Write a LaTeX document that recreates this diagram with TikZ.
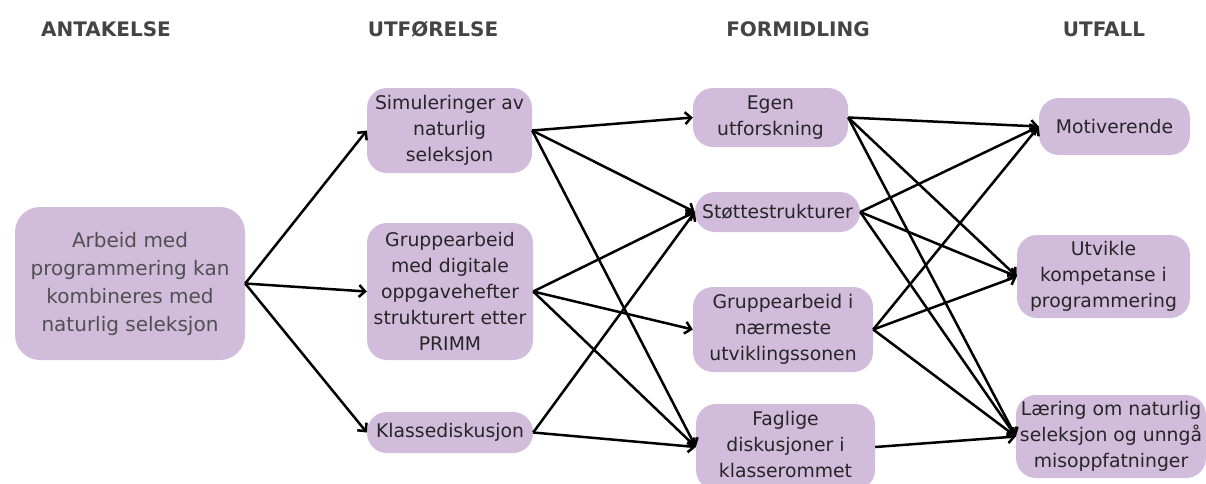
\documentclass[tikz,border=0pt]{standalone}
\usepackage{fontspec}
\setmainfont{DejaVu Sans}
\usetikzlibrary{arrows.meta}
\definecolor{boxfill}{HTML}{D2BCDC}
\definecolor{boxtext}{HTML}{262626}
\definecolor{maintext}{HTML}{505050}
\definecolor{headtext}{HTML}{444444}
\begin{document}
\begin{tikzpicture}[x=1pt,y=-1pt,
  box/.style={fill=boxfill, rounded corners=20pt, align=center, inner sep=0pt,
    font=\fontsize{18.8}{26}\selectfont, text=boxtext},
  boxlabel/.style={align=center, inner sep=0pt,
    font=\fontsize{18.8}{26}\selectfont, text=boxtext},
  heading/.style={font=\fontsize{20}{24}\selectfont\bfseries, text=headtext, inner sep=0pt},
  conn/.style={line width=2.5pt, -{Straight Barb[length=6pt,width=12pt,line width=2.5pt]}}
]
\useasboundingbox (0,0) rectangle (1206,483);
\begin{scope}
\clip (0,0) rectangle (1206,483);
% headings
\node[heading] (h1) at (106,29.5) {ANTAKELSE};
\node[heading] (h2) at (433,29.5) {UTFØRELSE};
\node[heading] (h3) at (798,29.5) {FORMIDLING};
\node[heading] (h4) at (1104,29.5) {UTFALL};
% boxes
\node[box, minimum width=230pt, minimum height=153pt, rounded corners=25pt,
  font=\fontsize{20}{28}\selectfont, text=maintext] (main) at (130,283.5)
  {Arbeid med\\programmering kan\\kombineres med\\naturlig seleksjon};
\node[box, minimum width=165pt, minimum height=85pt] (sim) at (449.5,130.5)
  {Simuleringer av\\naturlig\\seleksjon};
\node[box, minimum width=166pt, minimum height=137pt] (primm) at (450,291.5)
  {Gruppearbeid\\med digitale\\oppgavehefter\\strukturert etter\\PRIMM};
\node[box, minimum width=166pt, minimum height=41pt] (klasse) at (450,432.5)
  {Klassediskusjon};
\node[box, minimum width=155pt, minimum height=59pt] (egen) at (770.5,117.5)
  {Egen\\utforskning};
\node[box, minimum width=165pt, minimum height=40pt] (stotte) at (777.5,212)
  {Støttestrukturer};
\node[box, minimum width=180pt, minimum height=85pt] (grpi) at (783,329.5)
  {Gruppearbeid i\\nærmeste\\utviklingssonen};
\node[box, minimum width=179pt, minimum height=86pt] (fag) at (785.5,447) {};
\node[boxlabel] (faglabel) at (785.5,444.5)
  {Faglige\\diskusjoner i\\klasserommet};
\node[box, minimum width=151pt, minimum height=57pt] (motiv) at (1114.5,126.5)
  {Motiverende};
\node[box, minimum width=173pt, minimum height=83pt] (utv) at (1103.5,276.5)
  {Utvikle\\kompetanse i\\programmering};
\node[box, minimum width=190pt, minimum height=83pt] (laer) at (1111,436.5)
  {Læring om naturlig\\seleksjon og unngå\\misoppfatninger};
% connectors
\draw[conn] (main.east) -- (sim.west);
\draw[conn] (main.east) -- (primm.west);
\draw[conn] (main.east) -- (klasse.west);
\draw[conn] (sim.east) -- (egen.west);
\draw[conn] (sim.east) -- (stotte.west);
\draw[conn] (sim.east) -- (fag.west);
\draw[conn] (primm.east) -- (stotte.west);
\draw[conn] (primm.east) -- (grpi.west);
\draw[conn] (primm.east) -- (fag.west);
\draw[conn] (klasse.east) -- (stotte.west);
\draw[conn] (klasse.east) -- (fag.west);
\draw[conn] (egen.east) -- (motiv.west);
\draw[conn] (egen.east) -- (utv.west);
\draw[conn] (egen.east) -- (laer.west);
\draw[conn] (stotte.east) -- (motiv.west);
\draw[conn] (stotte.east) -- (utv.west);
\draw[conn] (stotte.east) -- (laer.west);
\draw[conn] (grpi.east) -- (motiv.west);
\draw[conn] (grpi.east) -- (utv.west);
\draw[conn] (grpi.east) -- (laer.west);
\draw[conn] (fag.east) -- (laer.west);
\end{scope}
\end{tikzpicture}
\end{document}
